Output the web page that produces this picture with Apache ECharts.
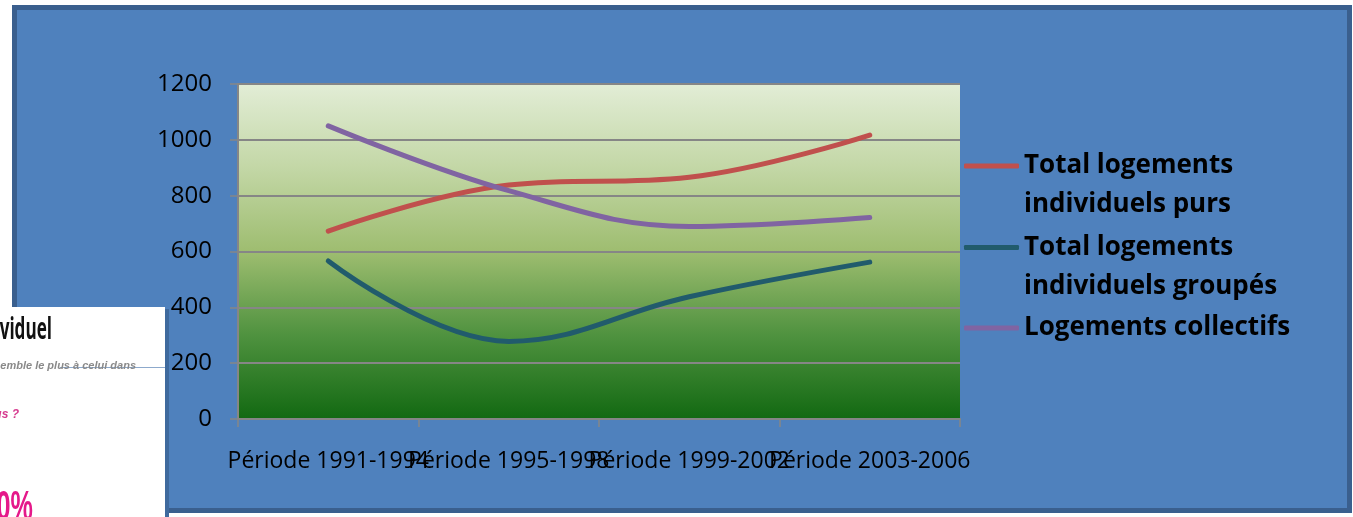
<!DOCTYPE html>
<html>
<head>
<meta charset="utf-8">
<script src="https://cdn.jsdelivr.net/npm/echarts@6/dist/echarts.min.js"></script>
<style>
  html, body { margin: 0; padding: 0; background: #fff; }
  #chart { width: 1353px; height: 517px; }
</style>
</head>
<body>
<div id="chart"></div>
<script>
// données
const periodes = ['Période 1991-1994', 'Période 1995-1998', 'Période 1999-2002', 'Période 2003-2006']
const individuelsPurs = [673, 838, 866, 1017]
const individuelsGroupes = [566, 278, 438, 562]
const collectifs = [1050, 818, 690, 722]
const yTicks = { min: 0, max: 1200, interval: 200 }

const seriesNames = ['Total logements individuels purs', 'Total logements individuels groupés', 'Logements collectifs']
// libellés de légende sur deux lignes (ligne vide en tête pour caler l'icône sur la 1re ligne)
const legendLabels = {
  'Total logements individuels purs': ' \nTotal logements\nindividuels purs',
  'Total logements individuels groupés': ' \nTotal logements\nindividuels groupés',
  'Logements collectifs': 'Logements collectifs'
}
const colors = ['#C0504D', '#215B6C', '#8064A2']

const chart = echarts.init(document.getElementById('chart'), null, { renderer: 'canvas' })

const legendBase = {
  left: 964,
  orient: 'vertical',
  padding: 0,
  itemWidth: 55,
  itemHeight: 5,
  icon: 'roundRect',
  itemStyle: { borderWidth: 0 },
  formatter: name => legendLabels[name],
  textStyle: {
    fontFamily: 'Open Sans',
    fontWeight: 'bold',
    fontSize: 26,
    lineHeight: 39,
    color: '#000'
  }
}

chart.setOption({
  animation: false,
  backgroundColor: '#fff',
  color: colors,
  graphic: [
    { // cadre bleu
      type: 'rect', z: -10,
      shape: { x: 14.5, y: 7.5, width: 1335, height: 503 },
      style: { fill: '#4F81BD', stroke: '#3A5F8E', lineWidth: 5 }
    },
    { // image collée en bas à gauche
      type: 'group', z: 100,
      children: [
        { type: 'rect', shape: { x: 165, y: 309, width: 4, height: 208 }, style: { fill: '#3F6A9E' } },
        { type: 'rect', shape: { x: 0, y: 307, width: 165, height: 210 }, style: { fill: '#fff' } },
        { type: 'line', shape: { x1: 60, y1: 367.5, x2: 165, y2: 367.5 }, style: { stroke: '#8DA9CC', lineWidth: 1 } },
        { type: 'text', x: 52, y: 330, scaleX: 0.57, originX: 0,
          style: { text: 'Le logement individuel', align: 'right', verticalAlign: 'middle', font: 'bold 30px "Open Sans"', fill: '#111' } },
        { type: 'text', x: 136, y: 366,
          style: { text: 'Quel logement vous semble le plus à celui dans', align: 'right', verticalAlign: 'middle', font: 'italic bold 11px "Liberation Sans"', fill: '#8a8a8a' } },
        { type: 'text', x: 19, y: 415,
          style: { text: 'Lequel préférez-vous ?', align: 'right', verticalAlign: 'middle', font: 'italic bold 12px "Liberation Sans"', fill: '#D63B8F' } },
        { type: 'text', x: 33, y: 508, scaleX: 0.6, originX: 0,
          style: { text: '80%', align: 'right', verticalAlign: 'middle', font: 'bold 42px "Liberation Sans"', fill: '#E5198A' } }
      ]
    }
  ],
  legend: seriesNames.map((name, i) => Object.assign({}, legendBase, {
    data: [name],
    top: [107.5, 189, 308.5][i]
  })),
  grid: {
    left: 238, right: 393, top: 84, bottom: 98,
    show: true,
    borderWidth: 0,
    backgroundColor: {
      type: 'linear', x: 0, y: 0, x2: 0, y2: 1,
      colorStops: [
        { offset: 0, color: '#E2EDD6' },
        { offset: 0.25, color: '#C3D7A6' },
        { offset: 0.5, color: '#9EBD70' },
        { offset: 0.75, color: '#4F923F' },
        { offset: 1, color: '#126912' }
      ]
    }
  },
  xAxis: {
    type: 'category',
    data: periodes,
    boundaryGap: true,
    axisLine: { lineStyle: { color: '#868686', width: 2 } },
    axisTick: { show: true, length: 8, lineStyle: { color: '#868686', width: 1.5 } },
    axisLabel: {
      interval: 0,
      margin: 31,
      color: '#000',
      fontFamily: 'Open Sans',
      fontSize: 23
    },
    splitLine: { show: false }
  },
  yAxis: {
    type: 'value',
    min: yTicks.min,
    max: yTicks.max,
    interval: yTicks.interval,
    axisLine: { show: true, lineStyle: { color: '#868686', width: 2 } },
    axisTick: { show: true, length: 8, lineStyle: { color: '#868686', width: 1.5 } },
    axisLabel: {
      margin: 26,
      color: '#000',
      fontFamily: 'Open Sans',
      fontSize: 24,
      formatter: v => String(v)
    },
    splitLine: { show: true, lineStyle: { color: '#868686', width: 2 } }
  },
  series: [
    { name: seriesNames[0], type: 'line', data: individuelsPurs },
    { name: seriesNames[1], type: 'line', data: individuelsGroupes },
    { name: seriesNames[2], type: 'line', data: collectifs }
  ].map(s => Object.assign(s, {
    smooth: 0.4,
    symbol: 'none',
    lineStyle: { width: 5, cap: 'round' }
  }))
})
</script>
</body>
</html>
